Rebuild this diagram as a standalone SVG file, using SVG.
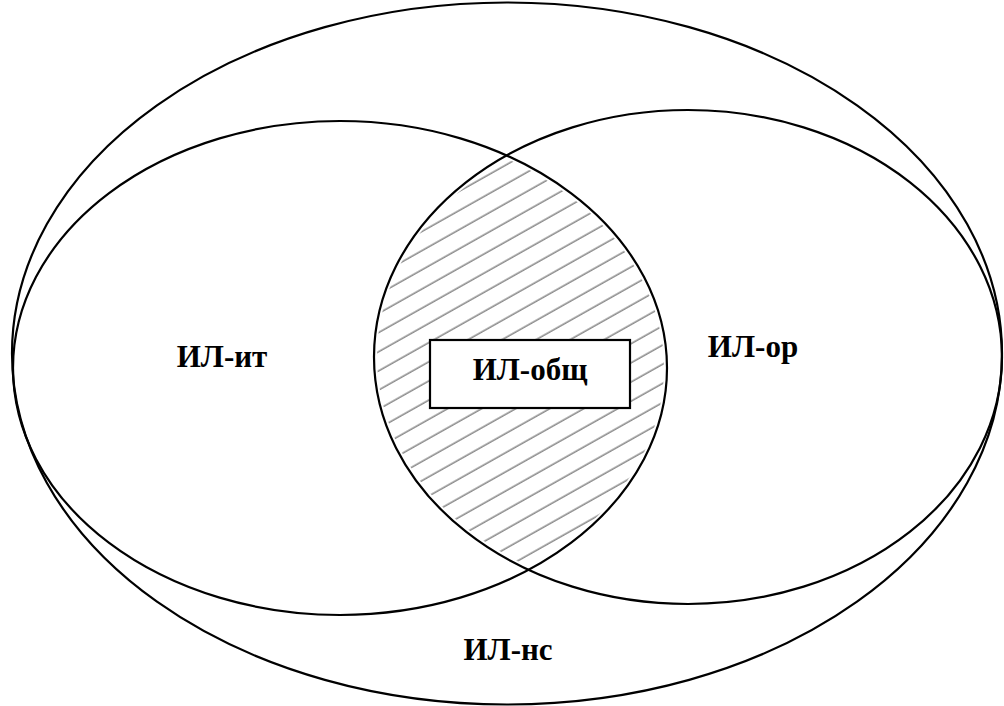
<svg xmlns="http://www.w3.org/2000/svg" width="1004" height="706" viewBox="0 0 1004 706">
  <style>
    .set { fill: none; stroke: #000; stroke-width: 2.2; }
    .label { font-family: "Liberation Serif", "Times New Roman", serif; font-weight: bold; font-size: 31px; fill: #000; text-anchor: middle; }
  </style>
  <defs>
    <pattern id="hatch" patternUnits="userSpaceOnUse" width="16.7" height="16.7" patternTransform="rotate(-29.4)">
      <line x1="0" y1="8" x2="16.7" y2="8" stroke="#666" stroke-width="1.2"/>
    </pattern>
    <clipPath id="clipIt">
      <ellipse cx="340" cy="368" rx="324" ry="244"/>
    </clipPath>
    <clipPath id="clipOr">
      <ellipse cx="688" cy="357" rx="311" ry="244"/>
    </clipPath>
  </defs>
  <rect width="1004" height="706" fill="#fff"/>

  <!-- shared zone hatching: intersection of the two inner sets -->
  <g id="shared-hatch" clip-path="url(#clipIt)">
    <g clip-path="url(#clipOr)">
      <rect x="370" y="100" width="310" height="540" fill="url(#hatch)"/>
    </g>
  </g>

  <g id="il-ns">
    <ellipse class="set" cx="507" cy="353.5" rx="495" ry="351"/>
    <text class="label" x="508" y="660">ИЛ-нс</text>
  </g>
  <g id="il-it">
    <ellipse class="set" cx="340" cy="368" rx="327" ry="247"/>
    <text class="label" x="222" y="367">ИЛ-ит</text>
  </g>
  <g id="il-or">
    <ellipse class="set" cx="688" cy="357" rx="314" ry="247"/>
    <text class="label" x="753" y="357">ИЛ-ор</text>
  </g>
  <g id="il-obshch">
    <rect x="430" y="340" width="200" height="68" fill="#fff" stroke="#000" stroke-width="2.2"/>
    <text class="label" x="530" y="380">ИЛ-общ</text>
  </g>
  <g id="connectors"/>
</svg>
